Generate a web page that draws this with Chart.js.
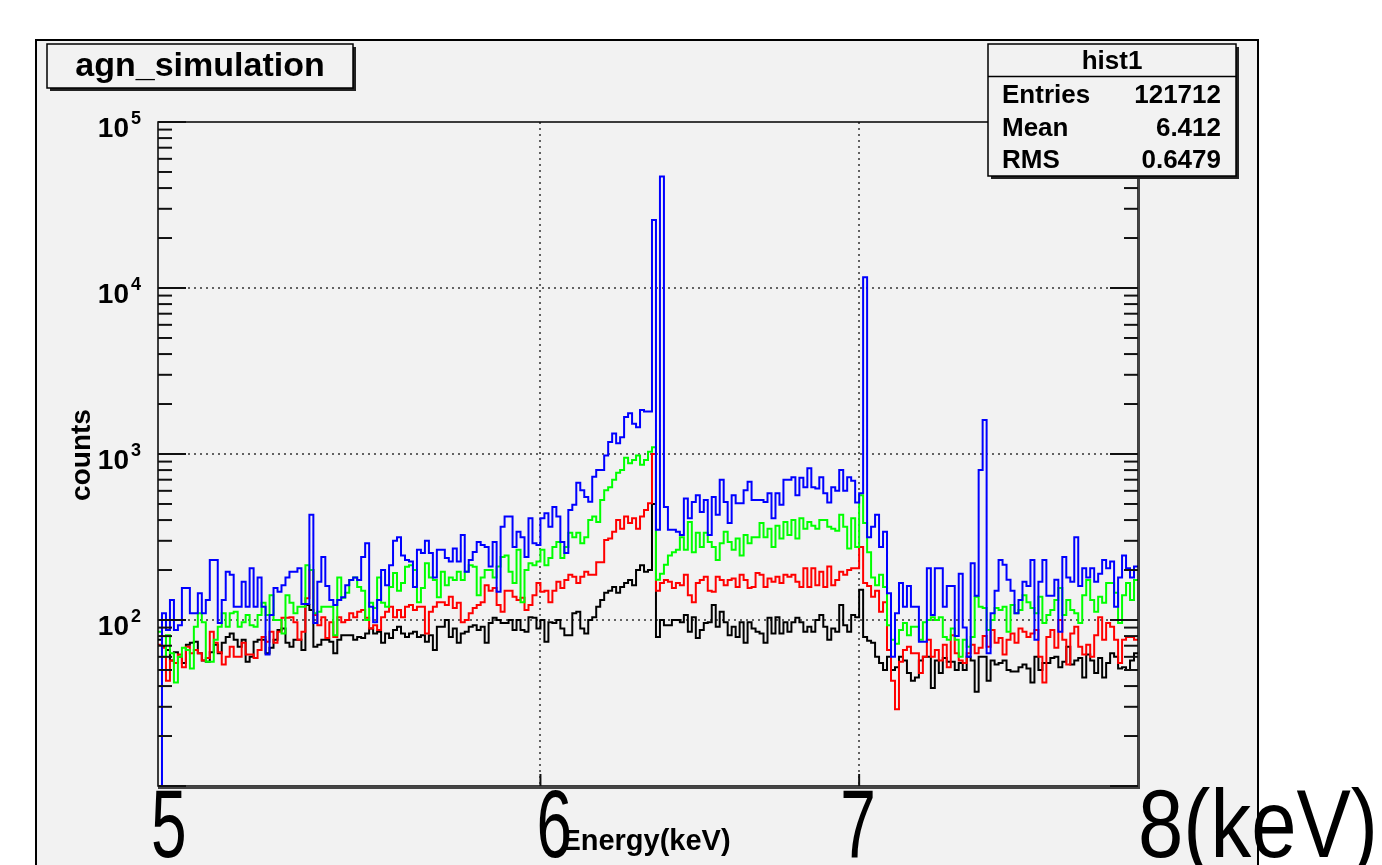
<!DOCTYPE html>
<html>
<head>
<meta charset="utf-8">
<script src="https://cdn.jsdelivr.net/npm/chart.js@4.4.1/dist/chart.umd.min.js"></script>
<style>
  html, body { margin: 0; padding: 0; background: #ffffff; }
  #wrap { position: relative; width: 1382px; height: 865px; overflow: hidden; }
</style>
</head>
<body>
<div id="wrap"><canvas id="graficoAgn" width="1382" height="865"></canvas></div>
<script>
// HISTOGRAMA agn_simulation

// bins de energia (keV)
const binInicio = 4.8;
const binLargura = 0.0125;

// contagens por bin
const contagensAzul = [
  1, 110, 87, 132, 87, 93, 156, 156, 110, 110,
  145, 110, 132, 230, 230, 96, 132, 195, 187, 120,
  120, 170, 120, 205, 120, 180, 120, 62, 107, 156,
  148, 162, 180, 195, 195, 205, 125, 125, 430, 96,
  170, 240, 160, 132, 123, 132, 137, 162, 174, 180,
  174, 240, 290, 120, 97, 132, 200, 162, 214, 300,
  315, 245, 230, 225, 158, 265, 253, 300, 253, 180,
  265, 265, 236, 225, 270, 225, 325, 195, 230, 257,
  295, 283, 275, 210, 295, 148, 365, 420, 420, 275,
  340, 315, 240, 410, 290, 283, 410, 440, 365, 480,
  420, 295, 253, 460, 495, 670, 605, 550, 515, 730,
  800, 800, 980, 1180, 1330, 1160, 1260, 1670, 1760, 1520,
  1450, 1840, 1800, 1800, 25700, 350, 47000, 480, 350, 350,
  340, 325, 540, 410, 514, 565, 447, 528, 325, 550,
  430, 700, 514, 384, 565, 505, 505, 605, 680, 528,
  528, 528, 514, 580, 410, 580, 495, 700, 700, 725,
  565, 720, 630, 820, 630, 620, 725, 580, 510, 630,
  600, 800, 600, 725, 690, 510, 580, 11600, 315, 365,
  430, 275, 340, 145, 60, 110, 167, 120, 160, 120,
  120, 74, 74, 205, 107, 205, 205, 120, 160, 160,
  80, 190, 90, 60, 220, 140, 800, 1600, 63, 110,
  150, 230, 215, 175, 150, 110, 132, 170, 160, 230,
  76, 170, 230, 140, 140, 175, 85, 240, 180, 170,
  315, 160, 205, 180, 205, 170, 190, 230, 205, 225,
  120, 180, 245, 205, 180, 210
];

const contagensVerde = [
  85, 60, 81, 63, 42, 60, 68, 66, 51, 91,
  110, 97, 56, 56, 76, 91, 110, 91, 110, 112,
  91, 97, 107, 93, 91, 107, 127, 107, 141, 100,
  100, 83, 141, 127, 110, 120, 120, 214, 200, 110,
  112, 120, 120, 120, 81, 180, 136, 146, 174, 180,
  158, 150, 100, 127, 118, 180, 127, 120, 158, 192,
  150, 167, 209, 214, 200, 128, 156, 220, 180, 174,
  137, 195, 162, 180, 174, 195, 174, 195, 214, 209,
  141, 180, 200, 200, 180, 210, 240, 245, 195, 167,
  265, 128, 200, 220, 214, 225, 265, 214, 236, 275,
  295, 236, 275, 335, 315, 335, 290, 315, 400, 420,
  390, 528, 605, 630, 700, 770, 800, 950, 880, 920,
  980, 860, 920, 1030, 1100, 175, 190, 215, 245, 256,
  265, 315, 265, 390, 256, 335, 275, 335, 295, 275,
  230, 290, 340, 295, 265, 310, 245, 325, 290, 315,
  315, 384, 315, 355, 275, 370, 310, 390, 325, 400,
  310, 410, 355, 390, 370, 355, 400, 400, 365, 355,
  345, 430, 365, 270, 410, 275, 565, 384, 256, 180,
  162, 187, 158, 93, 76, 72, 87, 96, 81, 91,
  91, 76, 97, 100, 104, 100, 104, 79, 76, 89,
  76, 60, 76, 69, 79, 138, 120, 118, 87, 100,
  118, 115, 120, 85, 123, 110, 115, 141, 128, 118,
  110, 138, 96, 107, 115, 132, 156, 107, 132, 115,
  110, 96, 141, 174, 132, 112, 138, 127, 167, 167,
  146, 96, 141, 167, 132, 174
];

const contagensVermelho = [
  71, 68, 43, 57, 55, 62, 52, 69, 63, 66,
  63, 57, 59, 85, 73, 64, 54, 60, 69, 60,
  60, 73, 62, 62, 59, 66, 79, 74, 85, 73,
  85, 103, 103, 104, 97, 76, 85, 135, 200, 107,
  93, 104, 78, 97, 79, 104, 97, 100, 110, 104,
  112, 115, 103, 89, 93, 87, 104, 112, 120, 104,
  115, 104, 120, 123, 115, 120, 120, 83, 112, 120,
  128, 128, 123, 138, 118, 127, 97, 100, 110, 118,
  123, 128, 162, 150, 156, 123, 112, 150, 150, 138,
  132, 136, 115, 123, 141, 167, 148, 150, 128, 150,
  170, 156, 174, 187, 182, 167, 182, 195, 187, 187,
  223, 223, 303, 310, 340, 400, 355, 420, 384, 410,
  355, 420, 460, 505, 1000, 150, 167, 174, 170, 156,
  167, 162, 187, 141, 128, 167, 174, 182, 150, 148,
  182, 174, 162, 174, 178, 158, 187, 174, 156, 158,
  192, 187, 158, 178, 170, 182, 167, 187, 182, 187,
  170, 158, 205, 158, 205, 162, 195, 158, 210, 162,
  174, 195, 187, 200, 205, 205, 275, 167, 160, 138,
  150, 112, 128, 66, 43, 29, 56, 66, 69, 63,
  63, 48, 60, 76, 60, 66, 57, 71, 52, 81,
  63, 57, 55, 63, 71, 63, 68, 80, 69, 87,
  73, 78, 62, 76, 83, 73, 89, 85, 79, 83,
  87, 60, 42, 79, 87, 68, 100, 76, 54, 83,
  91, 69, 62, 71, 60, 81, 104, 76, 96, 91,
  76, 55, 76, 79, 79, 76
];

const contagensPreto = [
  76, 69, 66, 57, 64, 60, 55, 71, 73, 74,
  63, 57, 56, 64, 71, 63, 73, 79, 83, 76,
  69, 76, 56, 60, 74, 76, 76, 63, 68, 76,
  87, 89, 73, 69, 76, 76, 66, 123, 115, 69,
  71, 76, 76, 74, 63, 76, 81, 81, 81, 76,
  79, 78, 83, 89, 83, 85, 73, 83, 78, 87,
  91, 83, 79, 83, 85, 79, 81, 74, 81, 66,
  91, 91, 100, 79, 89, 73, 83, 85, 91, 93,
  87, 91, 73, 96, 103, 100, 96, 96, 100, 87,
  100, 87, 85, 104, 103, 89, 100, 74, 97, 96,
  100, 89, 81, 81, 110, 112, 89, 83, 100, 104,
  120, 132, 146, 150, 158, 146, 158, 167, 174, 162,
  200, 214, 195, 200, 500, 79, 100, 93, 93, 100,
  100, 97, 107, 85, 104, 78, 87, 96, 97, 123,
  91, 112, 97, 81, 91, 79, 97, 73, 97, 89,
  85, 83, 73, 103, 83, 104, 83, 97, 85, 97,
  103, 97, 85, 91, 85, 100, 107, 91, 76, 89,
  85, 123, 93, 85, 107, 104, 152, 79, 75, 73,
  60, 55, 50, 60, 50, 52, 60, 57, 48, 43,
  45, 57, 60, 60, 39, 57, 48, 59, 56, 56,
  50, 55, 50, 60, 57, 37, 60, 60, 43, 57,
  54, 55, 57, 50, 49, 49, 52, 54, 51, 42,
  60, 50, 55, 55, 59, 60, 52, 56, 69, 54,
  57, 59, 45, 62, 57, 48, 59, 45, 55, 63,
  60, 51, 52, 50, 57, 63
];

// eixos
const energiaMin = 4.8;
const energiaMax = 7.875;
const contagemMin = 10;
const contagemMax = 100000;
const gradeX = [6, 7];
const gradeY = [100, 1000, 10000];
const decadasY = [10, 100, 1000, 10000, 100000];
const ticksX = [6, 7];
const rotulosGrandes = ["5", "6", "7", "8(keV)"];

// caixa de estatisticas
const nomeHist = "hist1";
const estatNomes = ["Entries", "Mean", "RMS"];
const estatValores = ["121712", "6.412", "0.6479"];

function montarPontos(contagens) {
  const pts = contagens.map((c, i) => ({ x: binInicio + i * binLargura, y: c }));
  pts.push({ x: binInicio + contagens.length * binLargura, y: contagens[contagens.length - 1] });
  return pts;
}

function linha(ctx, x1, y1, x2, y2) {
  ctx.beginPath();
  ctx.moveTo(x1, y1);
  ctx.lineTo(x2, y2);
  ctx.stroke();
}

function caixaSombra(ctx, x, y, w, h) {
  ctx.fillStyle = "#f2f2f2";
  ctx.fillRect(x, y, w, h);
  ctx.fillStyle = "#222";
  ctx.fillRect(x + 3, y + h, w, 3);
  ctx.fillRect(x + w, y + 3, 3, h);
  ctx.strokeStyle = "#000";
  ctx.lineWidth = 1.5;
  ctx.strokeRect(x, y, w, h);
}

const molduraRoot = {
  id: "molduraRoot",
  beforeDraw(chart) {
    const ctx = chart.ctx;
    ctx.save();
    ctx.fillStyle = "#ffffff";
    ctx.fillRect(0, 0, chart.width, chart.height);
    ctx.fillStyle = "#f2f2f2";
    ctx.fillRect(36, 40, 1222, 830);
    ctx.restore();
  },
  beforeDatasetsDraw(chart) {
    const { ctx, chartArea: a, scales: { x, y } } = chart;
    ctx.save();
    ctx.strokeStyle = "#333";
    ctx.lineWidth = 1.5;
    ctx.setLineDash([2, 4]);
    gradeX.forEach((v) => {
      const px = Math.round(x.getPixelForValue(v));
      linha(ctx, px, a.top, px, a.bottom);
    });
    gradeY.forEach((v) => {
      const py = Math.round(y.getPixelForValue(v));
      linha(ctx, a.left, py, a.right, py);
    });
    ctx.restore();
  },
  afterDatasetsDraw(chart) {
    const { ctx, chartArea: a, scales: { x, y } } = chart;
    ctx.save();

    // moldura do grafico
    ctx.strokeStyle = "#000";
    ctx.lineWidth = 1.5;
    ctx.strokeRect(a.left, a.top, a.right - a.left, a.bottom - a.top);
    ctx.fillStyle = "#444";
    ctx.fillRect(a.left, a.bottom, a.right - a.left + 2, 3);
    ctx.fillRect(a.right, a.top, 2, a.bottom - a.top);

    // ticks do eixo y (esquerda e direita)
    ctx.lineWidth = 2;
    ctx.strokeStyle = "#111";
    for (let d = 0; d < decadasY.length - 1; d++) {
      for (let m = 1; m <= 9; m++) {
        const v = decadasY[d] * m;
        const py = y.getPixelForValue(v);
        const len = m === 1 ? 28 : 14;
        linha(ctx, a.left, py, a.left + len, py);
        linha(ctx, a.right, py, a.right - len, py);
      }
    }
    linha(ctx, a.left, a.top, a.left + 28, a.top);
    linha(ctx, a.right, a.top, a.right - 28, a.top);

    // ticks do eixo x
    ticksX.forEach((v) => {
      const px = x.getPixelForValue(v);
      linha(ctx, px, a.bottom, px, a.bottom - 12);
    });

    // rotulos do eixo y
    ctx.fillStyle = "#000";
    gradeY.concat([contagemMax]).forEach((v) => {
      const py = y.getPixelForValue(v);
      const expo = String(Math.round(Math.log10(v)));
      ctx.font = "bold 28px 'Liberation Sans', Arial, sans-serif";
      ctx.textAlign = "right";
      ctx.textBaseline = "alphabetic";
      ctx.fillText("10", 129, py + 15);
      ctx.font = "bold 18px 'Liberation Sans', Arial, sans-serif";
      ctx.textAlign = "left";
      ctx.fillText(expo, 131, py + 2);
    });

    // titulo do eixo y
    ctx.save();
    ctx.translate(90, 455);
    ctx.rotate(-Math.PI / 2);
    ctx.font = "bold 28px 'Liberation Sans', Arial, sans-serif";
    ctx.textAlign = "center";
    ctx.fillText("counts", 0, 0);
    ctx.restore();

    // titulo do eixo x
    ctx.font = "bold 29px 'Liberation Sans', Arial, sans-serif";
    ctx.textAlign = "center";
    ctx.fillText("Energy(keV)", 646, 850);

    // caixa do titulo
    caixaSombra(ctx, 47, 44, 306, 44);
    ctx.fillStyle = "#000";
    ctx.font = "bold 34px 'Liberation Sans', Arial, sans-serif";
    ctx.textAlign = "center";
    ctx.fillText("agn_simulation", 200, 76);

    // caixa de estatisticas
    caixaSombra(ctx, 988, 44, 248, 132);
    ctx.lineWidth = 1.5;
    linha(ctx, 988, 76.5, 1236, 76.5);
    ctx.fillStyle = "#000";
    ctx.font = "bold 26px 'Liberation Sans', Arial, sans-serif";
    ctx.textAlign = "center";
    ctx.fillText(nomeHist, 1112, 69);
    const linhasY = [103, 136, 168];
    estatNomes.forEach((n, i) => {
      ctx.textAlign = "left";
      ctx.fillText(n, 1002, linhasY[i]);
      ctx.textAlign = "right";
      ctx.fillText(estatValores[i], 1221, linhasY[i]);
    });

    // rotulos grandes sobrepostos
    const posRotulos = [
      a.left - 7,
      x.getPixelForValue(6) - 4,
      x.getPixelForValue(7) - 19,
      a.right
    ];
    const escalas = [0.66, 0.66, 0.66, 0.84];
    ctx.font = "97px 'Liberation Sans', Arial, sans-serif";
    ctx.textAlign = "left";
    rotulosGrandes.forEach((t, i) => {
      ctx.save();
      ctx.translate(posRotulos[i], 857);
      ctx.scale(escalas[i], 1);
      ctx.fillText(t, 0, 0);
      ctx.restore();
    });

    // borda do canvas ROOT
    ctx.strokeStyle = "#000";
    ctx.lineWidth = 2;
    linha(ctx, 36, 40, 36, 865);
    linha(ctx, 35, 40, 1259, 40);
    linha(ctx, 1258, 40, 1258, 865);

    ctx.restore();
  }
};

const series = [
  { label: "azul", dados: contagensAzul, cor: "#0000ff" },
  { label: "verde", dados: contagensVerde, cor: "#00ff00" },
  { label: "vermelho", dados: contagensVermelho, cor: "#ff0000" },
  { label: "preto", dados: contagensPreto, cor: "#000000" }
];

new Chart(document.getElementById("graficoAgn"), {
  type: "line",
  data: {
    datasets: series.map((s) => ({
      label: s.label,
      data: montarPontos(s.dados),
      borderColor: s.cor,
      borderWidth: 2,
      stepped: "before",
      pointRadius: 0,
      fill: false,
      tension: 0
    }))
  },
  options: {
    responsive: false,
    animation: false,
    events: [],
    layout: { padding: { left: 158, top: 122, right: 244, bottom: 79 } },
    plugins: { legend: { display: false }, tooltip: { enabled: false } },
    scales: {
      x: { type: "linear", min: energiaMin, max: energiaMax, display: false },
      y: { type: "logarithmic", min: contagemMin, max: contagemMax, display: false }
    }
  },
  plugins: [molduraRoot]
});
</script>
</body>
</html>
